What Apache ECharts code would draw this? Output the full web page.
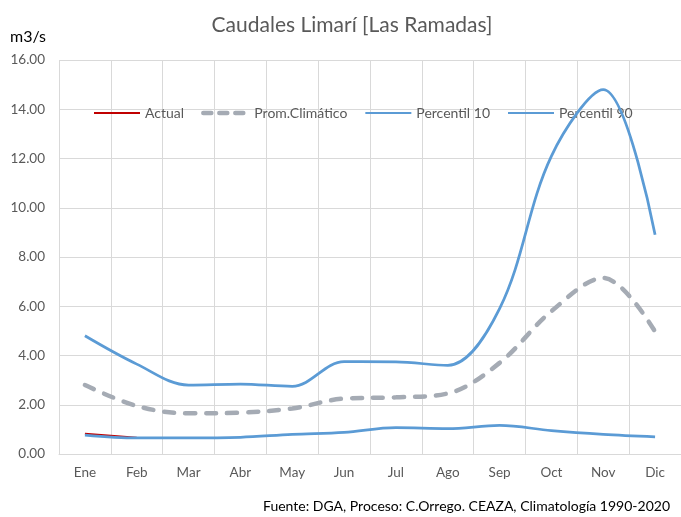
<!DOCTYPE html>
<html>
<head>
<meta charset="utf-8">
<script src="https://cdn.jsdelivr.net/npm/echarts@6/dist/echarts.min.js"></script>
<style>
html,body{margin:0;padding:0;background:#fff;}
#chart{width:681px;height:517px;}
</style>
</head>
<body>
<div id="chart"></div>
<script>
const months = ['Ene','Feb','Mar','Abr','May','Jun','Jul','Ago','Sep','Oct','Nov','Dic'];
const actual = [0.82, 0.66, null, null, null, null, null, null, null, null, null, null];
const promClimatico = [2.80, 1.95, 1.65, 1.68, 1.85, 2.25, 2.30, 2.46, 3.70, 5.80, 7.15, 4.97];
const percentil10 = [0.77, 0.65, 0.65, 0.68, 0.80, 0.88, 1.07, 1.03, 1.16, 0.95, 0.80, 0.70];
const percentil90 = [4.80, 3.65, 2.80, 2.84, 2.75, 3.75, 3.74, 3.60, 5.90, 12.10, 14.80, 8.90];
const yTicks = { min: 0, max: 16, interval: 2 };

const FONT = 'Lato, "Open Sans", sans-serif';
const chart = echarts.init(document.getElementById('chart'), null, {renderer: 'canvas'});
chart.setOption({
  animation: false,
  backgroundColor: '#ffffff',
  graphic: [
    {type: 'text', x: 352, y: 15, style: {text: 'Caudales Limarí [Las Ramadas]', font: '21px ' + FONT, fill: '#595959', textAlign: 'center'}},
    {type: 'text', left: 10, top: 29, style: {text: 'm3/s', font: '16px ' + FONT, fill: '#000'}},
    {type: 'text', right: 11, top: 499, style: {text: 'Fuente: DGA, Proceso: C.Orrego. CEAZA, Climatología 1990-2020', font: '14px ' + FONT, fill: '#000'}}
  ],
  legend: {
    left: 88, top: 101,
    itemWidth: 46, itemHeight: 12, itemGap: 17,
    itemStyle: {opacity: 0},
    textStyle: {fontFamily: FONT, fontSize: 14, color: '#595959'},
    data: [
      {name: 'Actual'},
      {name: 'Prom.Climático', lineStyle: {width: 4.5, type: [8, 8], cap: 'round'}},
      {name: 'Percentil 10'},
      {name: 'Percentil 90'}
    ]
  },
  grid: {left: 59, top: 60, width: 631, height: 394, containLabel: false},
  xAxis: {
    type: 'category', data: months, boundaryGap: true,
    axisLine: {show: true, lineStyle: {color: '#d9d9d9', width: 1}},
    axisTick: {show: false},
    splitLine: {show: true, lineStyle: {color: '#d9d9d9', width: 1}},
    axisLabel: {fontFamily: FONT, fontSize: 13.5, color: '#595959', margin: 12, interval: 0}
  },
  yAxis: {
    type: 'value', min: yTicks.min, max: yTicks.max, interval: yTicks.interval,
    axisLine: {show: false}, axisTick: {show: false},
    splitLine: {show: true, lineStyle: {color: '#d9d9d9', width: 1}},
    axisLabel: {fontFamily: FONT, fontSize: 13.5, color: '#595959', margin: 14,
      formatter: v => v.toFixed(2)}
  },
  series: [
    {name: 'Actual', type: 'line', data: actual, symbol: 'none', smooth: 0.35,
      lineStyle: {color: '#c00000', width: 2}, itemStyle: {color: '#c00000'}, z: 1},
    {name: 'Prom.Climático', type: 'line', data: promClimatico, symbol: 'none', smooth: 0.35,
      lineStyle: {color: '#a5abb4', width: 4.5, type: [10, 11], cap: 'round'}, itemStyle: {color: '#a5abb4'}, z: 2},
    {name: 'Percentil 10', type: 'line', data: percentil10, symbol: 'none', smooth: 0.35,
      lineStyle: {color: '#5b9bd5', width: 2.75}, itemStyle: {color: '#5b9bd5'}, z: 3},
    {name: 'Percentil 90', type: 'line', data: percentil90, symbol: 'none', smooth: 0.35,
      lineStyle: {color: '#5b9bd5', width: 2.75}, itemStyle: {color: '#5b9bd5'}, z: 4}
  ]
});
</script>
</body>
</html>
